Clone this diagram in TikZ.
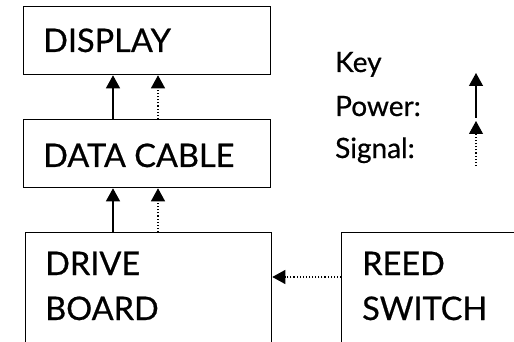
\documentclass[tikz,border=0pt]{standalone}
\usepackage{fontspec}
\setmainfont{Lato}[FakeBold=0.6]
\usetikzlibrary{arrows.meta}
\begin{document}
\begin{tikzpicture}[x=1pt,y=1pt,
  box/.style={draw,line width=1.3pt,inner sep=0pt,anchor=north west},
  big/.style={font=\fontsize{32.5}{32.5}\selectfont,anchor=base west,inner sep=0pt},
  small/.style={font=\fontsize{28}{28}\selectfont,anchor=base west,inner sep=0pt},
  power/.style={line width=1.3pt,-{Triangle[length=13pt,width=14pt]}},
  signal/.style={line width=1.1pt,dotted,-{Triangle[length=13pt,width=14pt]}}]
\useasboundingbox (0,0) rectangle (514,-342);
\clip (0,0) rectangle (514,-342);
\node[box,minimum width=247pt,minimum height=68pt] (disp) at (23,-6) {};
\node[box,minimum width=247pt,minimum height=68pt] (dc) at (23,-119) {};
\node[box,minimum width=246pt,minimum height=140pt] (drive) at (25,-232) {};
\node[box,minimum width=200pt,minimum height=140pt] (reed) at (341,-232) {};
\node[big] (tdisp) at (43,-52) {DISPLAY};
\node[big] (tdc) at (43,-167) {DATA CABLE};
\node[big] (tdrive1) at (45,-275) {DRIVE};
\node[big] (tdrive2) at (45,-320) {BOARD};
\node[big] (treed1) at (362,-275) {REED};
\node[big] (treed2) at (362,-320) {SWITCH};
\node[small] (tkey) at (335,-72) {Key};
\node[small] (tpow) at (335,-116) {Power:};
\node[small] (tsig) at (335,-158) {Signal:};
\coordinate (pa) at (476,-118);
\coordinate (pb) at (476,-73);
\coordinate (sa) at (476,-166);
\coordinate (sb) at (476,-121);
\draw[power] (pa) -- (pb);
\draw[signal] (sa) -- (sb);
\draw[power] ([xshift=90pt]dc.north west) -- ([xshift=90pt]disp.south west);
\draw[signal] ([xshift=135pt]dc.north west) -- ([xshift=135pt]disp.south west);
\draw[power] ([xshift=88pt]drive.north west) -- ([xshift=90pt]dc.south west);
\draw[signal] ([xshift=133pt]drive.north west) -- ([xshift=135pt]dc.south west);
\draw[signal] (reed.west |- 0,-277) -- (drive.east |- 0,-277);
\end{tikzpicture}
\end{document}
